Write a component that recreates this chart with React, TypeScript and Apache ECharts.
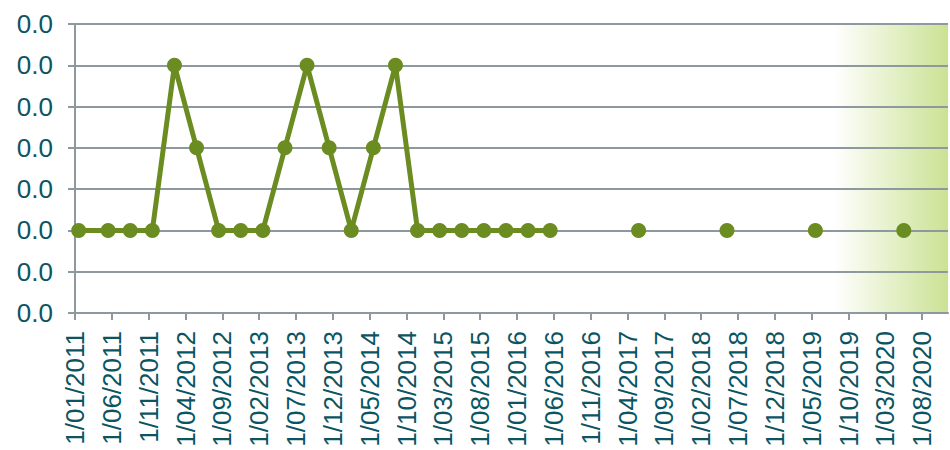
import React, { useEffect, useRef } from "react";
import * as echarts from "echarts";

// Quarterly observations (connected line)
const lineDates: string[] = [
  "2011-01", "2011-05", "2011-08", "2011-11",
  "2012-02", "2012-05", "2012-08", "2012-11",
  "2013-02", "2013-05", "2013-08", "2013-11",
  "2014-02", "2014-05", "2014-08", "2014-11",
  "2015-02", "2015-05", "2015-08", "2015-11",
  "2016-02", "2016-05",
];
const lineValues: number[] = [
  0.01, 0.01, 0.01, 0.01,
  0.03, 0.02, 0.01, 0.01,
  0.01, 0.02, 0.03, 0.02,
  0.01, 0.02, 0.03, 0.01,
  0.01, 0.01, 0.01, 0.01,
  0.01, 0.01,
];

// Annual observations (unconnected points)
const pointDates: string[] = ["2017-05", "2018-05", "2019-05", "2020-05"];
const pointValues: number[] = [0.01, 0.01, 0.01, 0.01];

// Axis range and shaded (forecast) period
const axisStart = "2011-01";
const axisEndMonths = 118.5;
const tickEveryMonths = 5;
const shadeStart = "2019-08";

const yMin = 0;
const yMax = 0.035;
const yStep = 0.005;

const [baseY, baseM] = axisStart.split("-").map(Number);
const monthIndex = (d: string) => {
  const [y, m] = d.split("-").map(Number);
  return (y - baseY) * 12 + (m - baseM);
};
const pad2 = (n: number) => (n < 10 ? "0" + n : "" + n);
const labelFor = (v: number) => {
  if (Math.abs(v - Math.round(v)) > 1e-6) return "";
  const total = baseM - 1 + Math.round(v);
  const y = baseY + Math.floor(total / 12);
  const m = (total % 12) + 1;
  return `1/${pad2(m)}/${y}`;
};

const GRID = "#8d999e";
const TEXT = "#0b5563";
const GREEN = "#6b8c21";

export default function App() {
  const ref = useRef<HTMLDivElement>(null);
  useEffect(() => {
    if (!ref.current) return;
    const chart = echarts.init(ref.current, undefined, { renderer: "svg" });
    const lineData = lineDates.map((d, i) => [monthIndex(d) + 0.5, lineValues[i]]);
    const pointData = pointDates.map((d, i) => [monthIndex(d) + 0.5, pointValues[i]]);
    chart.setOption({
      animation: false,
      grid: { left: 75, right: 2, top: 24, bottom: 137, containLabel: false },
      xAxis: {
        type: "value",
        min: 0,
        max: axisEndMonths,
        interval: tickEveryMonths,
        z: 2,
        splitLine: { show: false },
        axisLine: { show: true, lineStyle: { color: GRID, width: 2 } },
        axisTick: { show: true, length: 7, lineStyle: { color: GRID, width: 2 } },
        axisLabel: {
          rotate: 90,
          margin: 18,
          showMaxLabel: false,
          color: TEXT,
          fontSize: 26,
          fontFamily: "Liberation Sans, Arial, sans-serif",
          formatter: (v: number) => labelFor(v),
        },
      },
      yAxis: {
        type: "value",
        min: yMin,
        max: yMax,
        interval: yStep,
        z: 2,
        axisLine: { show: true, lineStyle: { color: GRID, width: 2 } },
        axisTick: { show: true, length: 7, lineStyle: { color: GRID, width: 2 } },
        splitLine: { show: true, lineStyle: { color: GRID, width: 2 } },
        axisLabel: {
          margin: 22,
          color: TEXT,
          fontSize: 26,
          fontFamily: "Liberation Sans, Arial, sans-serif",
          formatter: (v: number) => v.toFixed(1),
        },
      },
      series: [
        {
          type: "line",
          z: 3,
          data: lineData,
          symbol: "circle",
          symbolSize: 15,
          lineStyle: { color: GREEN, width: 5 },
          itemStyle: { color: GREEN },
          markArea: {
            silent: true,
            z: 1,
            itemStyle: {
              color: new echarts.graphic.LinearGradient(0, 0, 1, 0, [
                { offset: 0, color: "#ffffff" },
                { offset: 1, color: "#cbe294" },
              ]),
            },
            data: [[{ xAxis: monthIndex(shadeStart) }, { xAxis: axisEndMonths }]],
          },
        },
        {
          type: "scatter",
          z: 3,
          data: pointData,
          symbol: "circle",
          symbolSize: 15,
          itemStyle: { color: GREEN, opacity: 1 },
        },
      ],
    });
    return () => chart.dispose();
  }, []);
  return (
    <div
      ref={ref}
      style={{ position: "absolute", left: 0, top: 0, width: 950, height: 450 }}
    />
  );
}
